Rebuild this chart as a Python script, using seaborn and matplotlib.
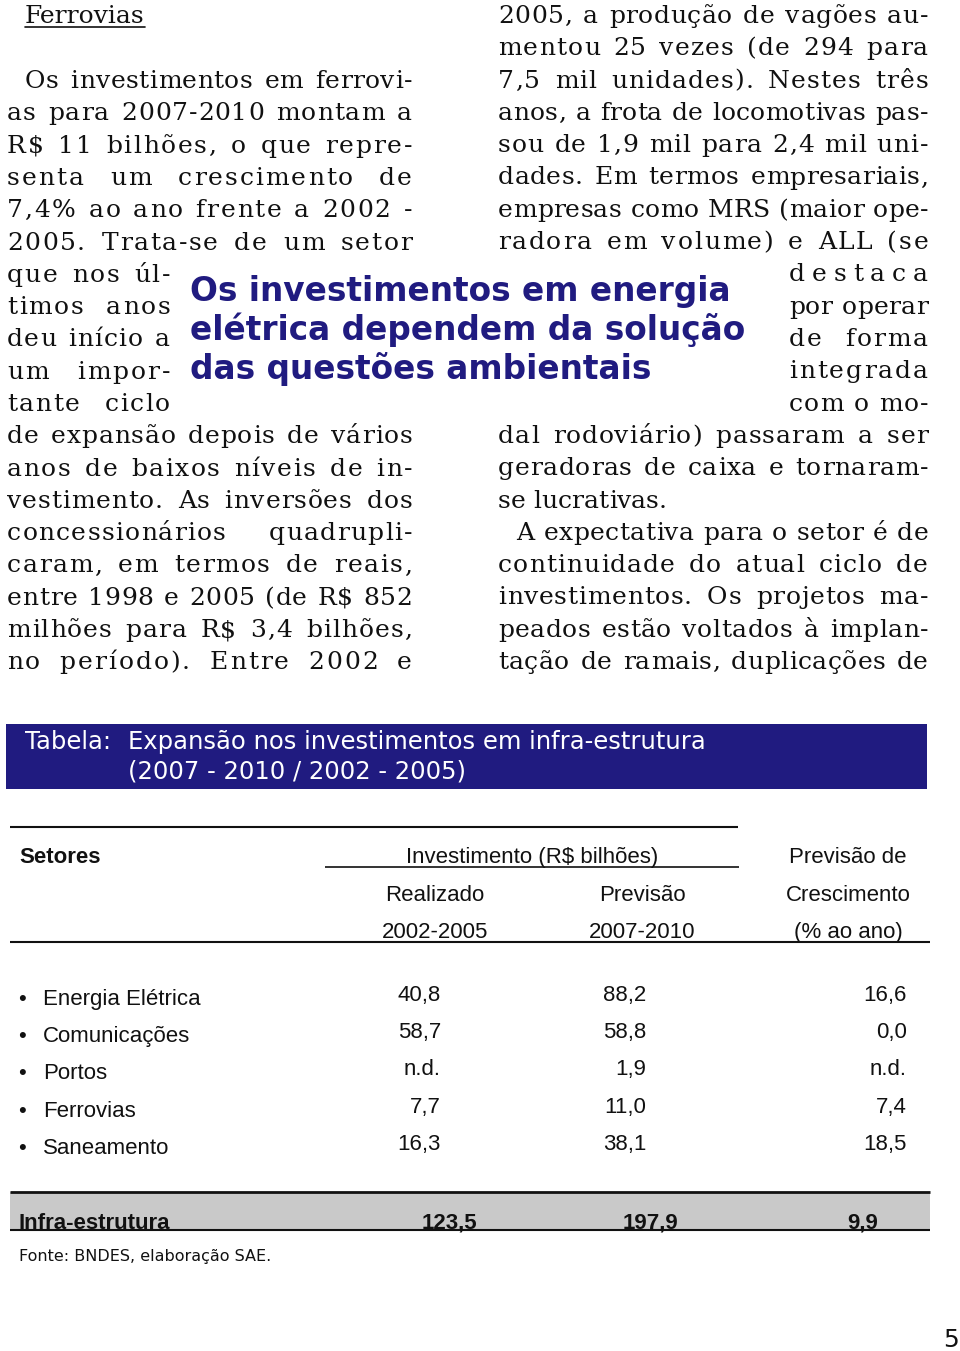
import numpy as np
import pandas as pd
import matplotlib.pyplot as plt
from matplotlib.patches import Rectangle
import seaborn as sns

###################################################################################
# Page data

titulo = 'Ferrovias'

col_esq = ['Os investimentos em ferrovi-',
           'as para 2007-2010 montam a',
           'R$ 11 bilhões, o que repre-',
           'senta um crescimento de',
           '7,4% ao ano frente a 2002 -',
           '2005. Trata-se de um setor',
           'que nos úl-',
           'timos anos',
           'deu início a',
           'um impor-',
           'tante ciclo',
           'de expansão depois de vários',
           'anos de baixos níveis de in-',
           'vestimento. As inversões dos',
           'concessionários quadrupli-',
           'caram, em termos de reais,',
           'entre 1998 e 2005 (de R$ 852',
           'milhões para R$ 3,4 bilhões,',
           'no período). Entre 2002 e']

col_dir = ['2005, a produção de vagões au-',
           'mentou 25 vezes (de 294 para',
           '7,5 mil unidades). Nestes três',
           'anos, a frota de locomotivas pas-',
           'sou de 1,9 mil para 2,4 mil uni-',
           'dades. Em termos empresariais,',
           'empresas como MRS (maior ope-',
           'radora em volume) e ALL (se',
           'destaca',
           'por operar',
           'de forma',
           'integrada',
           'com o mo-',
           'dal rodoviário) passaram a ser',
           'geradoras de caixa e tornaram-',
           'se lucrativas.',
           'A expectativa para o setor é de',
           'continuidade do atual ciclo de',
           'investimentos. Os projetos ma-',
           'peados estão voltados à implan-',
           'tação de ramais, duplicações de']

destaque = ['Os investimentos em energia',
            'elétrica dependem da solução',
            'das questões ambientais']

legenda = ['Expansão nos investimentos em infra-estrutura',
           '(2007 - 2010 / 2002 - 2005)']

setores = ['Energia Elétrica', 'Comunicações', 'Portos', 'Ferrovias', 'Saneamento']
realizado = ['40,8', '58,7', 'n.d.', '7,7', '16,3']
previsao = ['88,2', '58,8', '1,9', '11,0', '38,1']
crescimento = ['16,6', '0,0', 'n.d.', '7,4', '18,5']
total = ['Infra-estrutura', '123,5', '197,9', '9,9']

fonte = 'Fonte: BNDES, elaboração SAE.'

tabela = pd.DataFrame({'setor': setores, 'realizado': realizado,
                       'previsao': previsao, 'crescimento': crescimento})

###################################################################################
# Figure setup

sns.set_theme(style='white')
plt.rcParams['font.family'] = ['DejaVu Sans']
plt.rcParams['text.color'] = '#111111'

serif = ['DejaVu Serif']
narrow = ['Liberation Sans Narrow', 'Liberation Sans', 'DejaVu Sans']
condensed = ['DejaVu Sans Condensed', 'DejaVu Sans']
navy = '#201b80'
ink = '#111111'

fig = plt.figure(figsize=(9.6, 13.51), dpi=100)
ax = fig.add_axes([0, 0, 1, 1])
ax.set_xlim(0, 960)
ax.set_ylim(1351, 0)
ax.axis('off')
rend = fig.canvas.get_renderer()


def w(t):
    return t.get_window_extent(renderer=rend).width


def linha(txt, x0, x1, y, just=True, size=18):
    # place each letter so the line is justified: some tracking, rest into word gaps
    words = txt.split()
    arts = [[ax.text(0, y, c, fontsize=size, family=serif, va='baseline', color=ink)
             for c in wd] for wd in words]
    ws = [[w(a) for a in wd] for wd in arts]
    esp = 0.32 * size * 100 / 72
    nchar = sum(len(wd) for wd in ws)
    need = sum(sum(wd) for wd in ws) + esp * (len(words) - 1)
    slack = (x1 - x0) - need
    if slack < 0:
        k = (x1 - x0) / need
        for wd in arts:
            for a in wd:
                a.set_fontsize(size * k)
        ws = [[w(a) for a in wd] for wd in arts]
        esp *= k
        slack = 0
    track = 0.0
    gap = esp
    if just:
        if len(words) == 1:
            track = slack / max(nchar - 1, 1)
        else:
            track = min(0.45 * slack / max(nchar - len(words), 1), 2.0)
            rest = slack - track * (nchar - len(words))
            gap = esp + rest / (len(words) - 1)
    x = x0
    for wd, wl in zip(arts, ws):
        for i, (a, ww) in enumerate(zip(wd, wl)):
            a.set_x(x)
            x += ww + (track if i < len(wd) - 1 else 0)
        x += gap


###################################################################################
# Body text

t = ax.text(25, 23, titulo, fontsize=18, family=serif, va='baseline', color=ink)
ax.plot([25, 25 + w(t)], [27, 27], color=ink, lw=1.2)

for i, s in enumerate(col_esq):
    y = 88 + 32.3 * i
    x0 = 25 if i == 0 else 7
    x1 = 170 if 6 <= i <= 10 else 412
    linha(s, x0, x1, y)

for j, s in enumerate(col_dir):
    y = 23 + 32.3 * j
    x0 = 516 if j == 16 else (789 if 8 <= j <= 12 else 498)
    linha(s, x0, 928, y, just=(j != 15))

# pull quote
probe = ax.text(0, 0, destaque[1], fontsize=22, fontweight='bold')
fs_q = 22 * 553 / w(probe)
probe.remove()
for k, s in enumerate(destaque):
    ax.text(190, 301 + 39 * k, s, fontsize=fs_q, fontweight='bold', color=navy,
            va='baseline', family=['DejaVu Sans'])

###################################################################################
# Table

ax.add_patch(Rectangle((6, 724), 921, 65, color=navy, lw=0))
ax.text(25, 749, 'Tabela:', fontsize=17.5, color='white', va='baseline', family=condensed)
for k, s in enumerate(legenda):
    ax.text(128, 749 + 30 * k, s, fontsize=17.5, color='white', va='baseline', family=condensed)

ax.hlines(827, 10, 738, color=ink, lw=1.5)
ax.hlines(867, 325, 739, color=ink, lw=1.2)
ax.hlines(942, 10, 930, color=ink, lw=1.5)

fs_t = 16
ax.text(19, 863, 'Setores', fontsize=fs_t, fontweight='bold', va='baseline', family=narrow)
ax.text(532, 863, 'Investimento (R$ bilhões)', fontsize=fs_t, ha='center', va='baseline', family=narrow)
ax.text(848, 863, 'Previsão de', fontsize=fs_t, ha='center', va='baseline', family=narrow)
ax.text(435, 901, 'Realizado', fontsize=fs_t, ha='center', va='baseline', family=narrow)
ax.text(642, 901, 'Previsão', fontsize=fs_t, ha='center', va='baseline', family=narrow)
ax.text(848, 901, 'Crescimento', fontsize=fs_t, ha='center', va='baseline', family=narrow)
ax.text(435, 938, '2002-2005', fontsize=fs_t, ha='center', va='baseline', family=narrow)
ax.text(642, 938, '2007-2010', fontsize=fs_t, ha='center', va='baseline', family=narrow)
ax.text(848, 938, '(% ao ano)', fontsize=fs_t, ha='center', va='baseline', family=narrow)

for i, row in tabela.iterrows():
    y = 1005 + 37.2 * i
    ax.text(22, y, '•', fontsize=fs_t, ha='center', va='baseline', family=narrow)
    ax.text(43, y, row['setor'], fontsize=fs_t, va='baseline', family=narrow)
    ax.text(441, y - 4, row['realizado'], fontsize=fs_t, ha='right', va='baseline', family=narrow)
    ax.text(646, y - 4, row['previsao'], fontsize=fs_t, ha='right', va='baseline', family=narrow)
    ax.text(907, y - 4, row['crescimento'], fontsize=fs_t, ha='right', va='baseline', family=narrow)

ax.add_patch(Rectangle((10, 1192), 920, 38, color='#c9c9c9', lw=0))
ax.hlines(1192, 10, 930, color=ink, lw=2)
ax.hlines(1230, 10, 930, color=ink, lw=1.5)
ax.text(19, 1229, total[0], fontsize=fs_t, fontweight='bold', va='baseline', family=narrow)
for xr, s in zip([477, 678, 878], total[1:]):
    ax.text(xr, 1229, s, fontsize=fs_t, fontweight='bold', ha='right', va='baseline', family=narrow)

ax.text(19, 1261, fonte, fontsize=11.5, va='baseline', family=condensed)
ax.text(951, 1347, '5', fontsize=18, ha='center', va='baseline', family=['DejaVu Sans'])

fig.savefig('out.png', dpi=100, facecolor='white')
